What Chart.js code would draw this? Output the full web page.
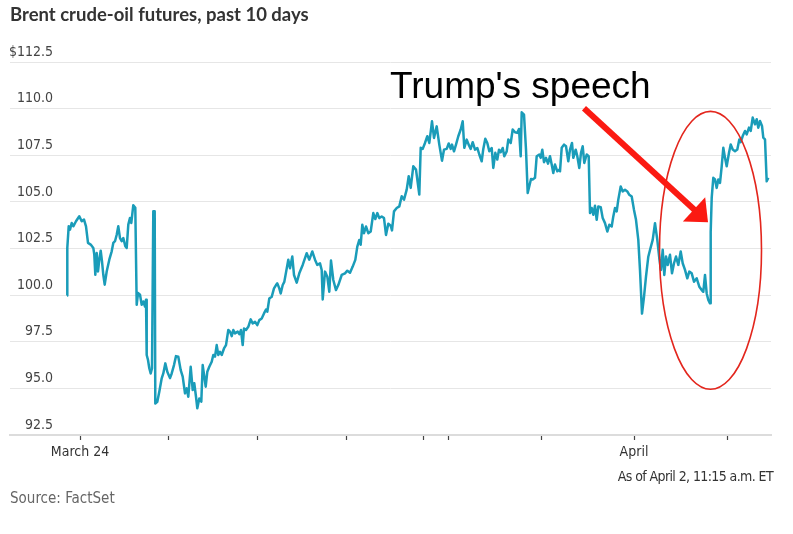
<!DOCTYPE html>
<html>
<head>
<meta charset="utf-8">
<script src="https://cdn.jsdelivr.net/npm/chart.js@4"></script>
<style>
  html, body { margin: 0; padding: 0; background: #fff; }
  #wrap { width: 793px; height: 534px; }
</style>
</head>
<body>
<div id="wrap"><canvas id="brent"></canvas></div>
<script>
// time steps since the first quote (about 1/90 of a trading day each)
const timeIdx = [
  0, 0.3, 1.7, 3, 4.7, 6.3, 9, 12.3, 14.7, 17, 19, 21, 23.7, 26.3, 27.3, 28.3, 29.7, 31, 32.3, 33.7,
  35, 36.3, 37.7, 39.7, 42.3, 44.7, 46.3, 48, 49.7, 51.3, 53, 54.7, 56.3, 58.3, 59.7, 61.3, 63, 64.3, 66.3, 68.3,
  69.7, 71, 73, 74.7, 76.3, 78, 79, 79.7, 81, 82.3, 83.7, 85, 86.3, 87.7, 88.3, 90.3, 92.3, 94.7, 96.3, 98.3,
  100.3, 103, 104.7, 107, 109, 111.3, 113.7, 115.7, 118, 119.7, 121.3, 123.7, 125.7, 127.3, 129, 130.3, 132.3, 134.3, 135.7, 137.3,
  138.7, 140.3, 142.3, 144.7, 146.3, 148, 149.7, 151.3, 153, 154.7, 157, 159, 161.3, 163, 164.7, 166.3, 168, 170.7, 172.3, 174,
  175.7, 177, 179, 181.3, 183.7, 185.7, 188, 190.3, 192.3, 194.7, 197, 199, 200.3, 202.3, 204.7, 207, 209, 210.3, 212.3, 213.7,
  215.7, 217.3, 221.3, 223, 225.3, 227, 229.7, 232.3, 235.7, 239.7, 242.3, 245.3, 248, 250.3, 253, 254.7, 255.7, 258, 260.3, 262.3,
  264, 266.3, 269, 271.3, 274.7, 278, 280.3, 283, 285.7, 288.3, 290.3, 292.3, 293.7, 295.3, 297, 299, 301.3, 303.7, 306.3, 308.3,
  310.3, 312.3, 314.7, 317, 319, 321.3, 323.7, 325, 327, 329.7, 332.3, 334.7, 337, 339.7, 341.7, 343.7, 346.3, 349, 352.3, 353.7,
  355.7, 358, 360.3, 362.3, 365, 367, 369.7, 372.3, 375, 377, 379.7, 381.7, 383.7, 385, 387, 389, 391.3, 393.7, 395.7, 397.3,
  399.7, 402, 403.7, 405.7, 408, 410.3, 412.3, 414.7, 416.3, 418.3, 420.3, 422.3, 424.7, 426.3, 428.3, 430.3, 432, 433.7, 435.7, 437.3,
  439.7, 441.3, 443.7, 445.7, 448, 450.3, 452, 453.7, 454.7, 457, 459, 460.7, 462.3, 464, 465.7, 468, 469.7, 472.3, 473.7, 475.3,
  477, 479, 481, 483, 484.7, 486.3, 488, 490.3, 492.3, 493, 494.7, 497, 499, 501.3, 503, 505, 506.3, 508.7, 510.3, 512.3,
  514, 515.7, 517.3, 519.7, 521.7, 523, 524.7, 526.3, 528, 529.7, 531.3, 533.7, 535.7, 538, 540.3, 542.3, 544.7, 546.3, 548, 549.7,
  551.3, 553.7, 555.7, 558, 560.3, 562.3, 564.7, 567, 569, 571.3, 573, 575, 577, 579, 581.3, 583, 585.7, 588, 590.3, 592.3,
  594, 595.7, 597.3, 599, 600.7, 603, 605, 607, 609, 611.3, 613.7, 615.7, 618, 620.3, 622.3, 624.7, 627, 629.7, 632.3, 634.7,
  636.3, 638, 639.7, 641.3, 643, 643.7, 644.7, 646.3, 648, 649.7, 651.3, 653, 654.7, 656.3, 658, 659.7, 662, 663.7, 665.7, 668,
  670.3, 672.3, 673.7, 675.7, 678, 679.7, 682, 683.7, 685.7, 688, 689.7, 691.3, 693, 695, 696.3, 698, 699.7, 701.3
];

// Brent front-month, $ a barrel
const price = [
  99.98, 102.53, 103.69, 103.51, 103.87, 103.69, 103.96, 104.23, 103.96, 104.05, 103.69, 102.8, 102.71, 102.53, 102.17, 101.09, 102.26, 101.27, 101.9, 102.38,
  101.81, 101.09, 100.56, 101.27, 101.9, 102.35, 102.8, 102.89, 103.24, 103.69, 103.06, 102.89, 103.06, 102.62, 102.53, 103.78, 104.14, 103.87, 104.82, 104.68,
  99.48, 100.11, 100.02, 99.48, 99.66, 99.39, 99.75, 96.79, 96.52, 96.08, 95.8, 96.08, 104.5, 104.5, 94.19, 94.28, 94.82, 95.54, 95.8, 96.34,
  95.89, 95.55, 95.8, 96.25, 96.73, 96.7, 95.98, 95.63, 94.73, 95.0, 94.55, 96.16, 94.91, 95.27, 94.55, 93.93, 94.46, 94.29, 96.25, 95.63,
  95.09, 95.89, 96.16, 96.43, 96.79, 96.7, 97.32, 96.79, 96.96, 96.79, 97.14, 97.32, 98.13, 98.04, 97.8, 98.13, 97.95, 98.04, 97.91, 98.13,
  97.32, 98.21, 98.13, 98.3, 98.7, 98.48, 98.57, 98.39, 98.66, 98.75, 99.02, 99.23, 99.11, 99.82, 99.91, 100.36, 100.54, 100.63, 100.36, 100.09,
  100.54, 100.71, 101.9, 101.44, 102.07, 101.08, 100.67, 101.17, 101.62, 102.25, 101.9, 102.34, 101.9, 101.62, 101.7, 101.35, 99.77, 101.26, 100.99, 100.18,
  101.85, 100.81, 100.27, 100.54, 101.08, 101.17, 101.31, 101.2, 101.53, 101.89, 102.6, 102.96, 102.7, 103.77, 103.32, 103.68, 103.32, 103.41, 104.4, 104.08,
  104.4, 104.13, 104.22, 104.13, 103.23, 103.83, 103.72, 103.47, 104.49, 104.67, 104.76, 105.3, 105.12, 105.66, 106.38, 105.75, 106.91, 106.73, 105.39, 107.9,
  107.84, 108.16, 108.52, 108.16, 109.32, 108.43, 109.05, 108.07, 107.21, 107.8, 107.84, 108.13, 107.84, 108.07, 107.71, 108.07, 108.52, 108.88, 109.32, 107.9,
  108.34, 108.02, 107.84, 108.2, 107.8, 107.89, 107.54, 107.18, 107.84, 108.38, 108.16, 107.71, 107.89, 106.82, 107.63, 107.27, 107.8, 107.66, 107.89, 107.45,
  107.71, 108.34, 108.16, 108.88, 108.73, 108.7, 108.91, 107.45, 109.8, 109.68, 107.8, 105.48, 105.84, 106.23, 106.2, 106.29, 107.45, 107.54, 107.36, 107.8,
  107.13, 107.36, 107.05, 107.45, 107.0, 106.55, 107.0, 106.64, 106.73, 106.64, 107.9, 108.07, 107.98, 107.18, 107.8, 108.16, 107.36, 107.8, 107.45, 106.82,
  107.63, 107.98, 107.09, 107.54, 107.45, 104.4, 104.67, 104.31, 104.79, 104.04, 104.75, 104.72, 104.13, 103.86, 103.41, 103.77, 103.68, 104.22, 104.67, 104.49,
  105.12, 105.83, 105.56, 105.65, 105.56, 105.38, 105.29, 104.57, 104.04, 102.96, 101.34, 99.01, 99.91, 100.99, 102.06, 102.42, 102.96, 103.86, 102.96, 101.98,
  101.35, 102.43, 101.08, 102.07, 101.62, 102.16, 101.17, 101.71, 102.07, 101.62, 102.34, 101.71, 101.35, 100.9, 101.26, 101.17, 100.72, 100.9, 100.45, 100.27,
  100.18, 101.08, 100.09, 99.74, 99.56, 103.41, 105.21, 106.29, 106.2, 105.75, 106.2, 106.02, 106.91, 107.9, 107.36, 106.91, 107.63, 108.08, 107.81, 107.72,
  107.81, 108.35, 108.2, 108.53, 108.8, 108.62, 108.98, 108.8, 109.52, 109.16, 109.43, 108.98, 109.34, 109.07, 108.44, 108.35, 106.1, 106.29
];

// day boundaries on the time axis
const tickIdx = [13, 101, 190, 279, 356, 381, 474, 567, 660];
const tickLabels = ['March 24', '', '', '', '', '', '', 'April', ''];
const yTicks = [92.5, 95, 97.5, 100, 102.5, 105, 107.5, 110, 112.5];

const narrow = '"DejaVu Sans Condensed", "Liberation Sans", sans-serif';

// speech annotation + footnotes
const annotate = {
  id: 'annotate',
  afterDraw(chart) {
    const { ctx, chartArea } = chart;
    const x = chart.scales.x, y = chart.scales.y;
    ctx.save();

    // ellipse round the rebound
    const cx = x.getPixelForValue(643.5), cy = y.getPixelForValue(102.4);
    const rx = x.getPixelForValue(643.5 + 51) - cx;
    const ry = y.getPixelForValue(102.4) - y.getPixelForValue(102.4 + 7.45);
    ctx.strokeStyle = '#e3261d';
    ctx.lineWidth = 1.6;
    ctx.beginPath();
    ctx.ellipse(cx, cy, rx, ry, 0, 0, Math.PI * 2);
    ctx.stroke();

    // arrow
    const sx = x.getPixelForValue(517), sy = y.getPixelForValue(110.02);
    const tx = x.getPixelForValue(641), ty = y.getPixelForValue(103.91);
    const len = Math.hypot(tx - sx, ty - sy);
    const dx = (tx - sx) / len, dy = (ty - sy) / len;
    const bx = tx - dx * 19, by = ty - dy * 19;
    ctx.strokeStyle = '#fb1a12';
    ctx.fillStyle = '#fb1a12';
    ctx.lineWidth = 6;
    ctx.beginPath();
    ctx.moveTo(sx, sy);
    ctx.lineTo(bx + dx * 2, by + dy * 2);
    ctx.stroke();
    ctx.beginPath();
    ctx.moveTo(tx, ty);
    ctx.lineTo(bx - dy * 16.5, by + dx * 16.5);
    ctx.lineTo(bx + dy * 16.5, by - dx * 16.5);
    ctx.closePath();
    ctx.fill();

    // label
    ctx.fillStyle = '#000';
    ctx.font = '37px "Liberation Sans", Arial, sans-serif';
    ctx.textAlign = 'left';
    ctx.textBaseline = 'alphabetic';
    ctx.fillText("Trump's speech", x.getPixelForValue(323), y.getPixelForValue(110.55));

    // footnotes
    ctx.font = '14px ' + narrow;
    ctx.textBaseline = 'middle';
    ctx.fillStyle = '#333';
    ctx.textAlign = 'right';
    ctx.letterSpacing = '-0.6px';
    ctx.fillText('As of April 2, 11:15 a.m. ET', 773, chartArea.bottom + 42);
    ctx.letterSpacing = '0px';
    ctx.font = '15px ' + narrow;
    ctx.fillStyle = '#666';
    ctx.textAlign = 'left';
    ctx.fillText('Source: FactSet', 10, chartArea.bottom + 64);
    ctx.restore();
  }
};

new Chart(document.getElementById('brent'), {
  type: 'line',
  data: {
    datasets: [{
      data: timeIdx.map((t, i) => ({ x: t, y: price[i] })),
      borderColor: '#1a9cb9',
      borderWidth: 2.5,
      borderJoinStyle: 'round',
      pointRadius: 0,
      tension: 0
    }]
  },
  options: {
    responsive: true,
    maintainAspectRatio: false,
    animation: false,
    layout: { padding: { left: 10, right: 22, top: 0, bottom: 67 } },
    plugins: {
      legend: { display: false },
      tooltip: { enabled: false },
      title: {
        display: true,
        text: 'Brent crude-oil futures, past 10 days',
        align: 'start',
        color: '#333',
        font: { family: 'Lato, "Open Sans", sans-serif', size: 18.5, weight: 'bold', lineHeight: 1.2 },
        padding: { top: 4, bottom: 35.8 }
      }
    },
    scales: {
      x: {
        type: 'linear',
        min: -57,
        max: 704,
        afterBuildTicks: s => { s.ticks = tickIdx.map(v => ({ value: v })); },
        afterFit: s => { s.height = 32; },
        ticks: {
          autoSkip: false,
          maxRotation: 0,
          padding: 4,
          color: '#333',
          font: { family: narrow, size: 14 },
          callback: (v, i) => tickLabels[i]
        },
        grid: { drawOnChartArea: false, tickLength: 5, tickColor: '#444', tickWidth: 1.2 },
        border: { color: '#dcdcdc', width: 2 }
      },
      y: {
        min: 92.5,
        max: 112.5,
        afterBuildTicks: s => { s.ticks = yTicks.map(v => ({ value: v })); },
        afterFit: s => { s.width = 0; },
        ticks: {
          mirror: true,
          crossAlign: 'far',
          padding: -1,
          labelOffset: -10,
          color: '#444',
          font: { family: narrow, size: 14 },
          callback: v => (v === 112.5 ? '$112.5' : v.toFixed(1))
        },
        grid: { color: '#e6e6e6', lineWidth: 1, drawTicks: false },
        border: { display: false }
      }
    }
  },
  plugins: [annotate]
});
</script>
</body>
</html>
